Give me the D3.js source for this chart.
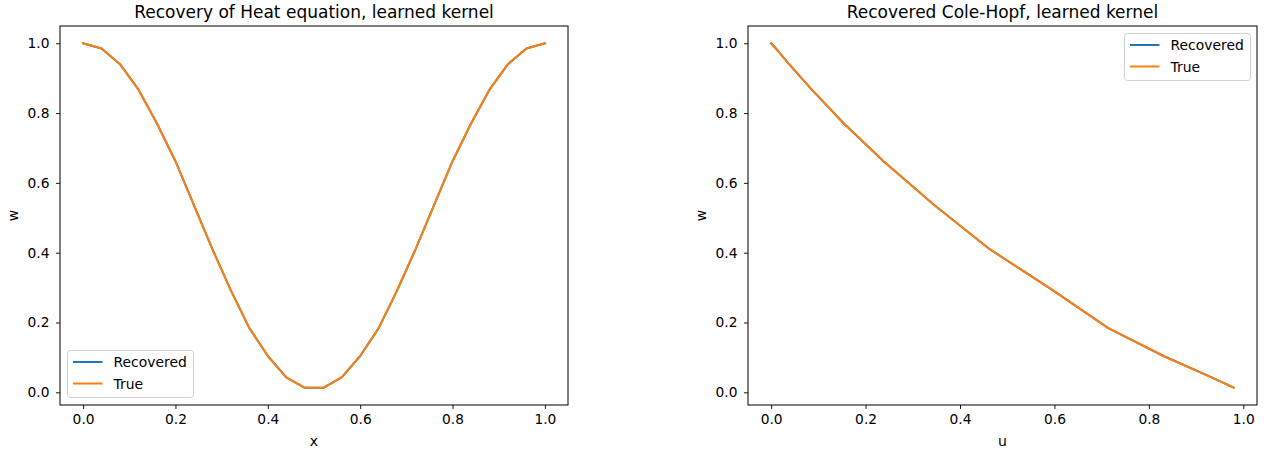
<!DOCTYPE html>
<html>
<head>
<meta charset="utf-8">
<script src="https://cdn.jsdelivr.net/npm/d3@7"></script>
<style>
  html, body { margin: 0; padding: 0; background: #fff; }
  svg text { font-family: "DejaVu Sans", sans-serif; fill: #000; }
</style>
</head>
<body>
<svg id="chart" width="1269" height="452"></svg>
<script>
// ---- data ----
const heatX = [0.0, 0.04, 0.08, 0.12, 0.16, 0.2, 0.24, 0.28, 0.32, 0.36, 0.4, 0.44, 0.48,
               0.52, 0.56, 0.6, 0.64, 0.68, 0.72, 0.76, 0.8, 0.84, 0.88, 0.92, 0.96, 1.0];
const heatTrue = [1.0, 0.985, 0.94, 0.867, 0.77, 0.662, 0.536, 0.41, 0.292, 0.184, 0.104, 0.043, 0.013,
                  0.013, 0.043, 0.104, 0.184, 0.292, 0.41, 0.536, 0.662, 0.77, 0.867, 0.94, 0.985, 1.0];
const heatRecovered = [1.0, 0.985, 0.94, 0.867, 0.77, 0.662, 0.536, 0.41, 0.292, 0.184, 0.104, 0.043, 0.013,
                       0.013, 0.043, 0.104, 0.184, 0.292, 0.41, 0.536, 0.662, 0.77, 0.867, 0.94, 0.985, 1.0];

const chU = [0.0, 0.01, 0.038, 0.086, 0.154, 0.238, 0.346, 0.463, 0.597, 0.714, 0.831, 0.933, 0.98];
const chTrue = [1.0, 0.985, 0.94, 0.867, 0.77, 0.662, 0.536, 0.41, 0.292, 0.184, 0.104, 0.043, 0.013];
const chRecovered = [1.0, 0.985, 0.94, 0.867, 0.77, 0.662, 0.536, 0.41, 0.292, 0.184, 0.104, 0.043, 0.013];

const xTicks = [0.0, 0.2, 0.4, 0.6, 0.8, 1.0];
const yTicks = [0.0, 0.2, 0.4, 0.6, 0.8, 1.0];
const seriesNames = ["Recovered", "True"];
const seriesColors = ["#1f77b4", "#ff7f0e"];

const svg = d3.select("#chart");

function panel(opts) {
  const { left, right, top, bottom, xs, series, title, xlabel, ylabel, legendPos } = opts;
  const allY = series.flat();
  const xMin = d3.min(xs), xMax = d3.max(xs);
  const yMin = d3.min(allY), yMax = d3.max(allY);
  const xr = xMax - xMin, yr = yMax - yMin;
  const x = d3.scaleLinear().domain([xMin - 0.05 * xr, xMax + 0.05 * xr]).range([left, right]);
  const y = d3.scaleLinear().domain([yMin - 0.05 * yr, yMax + 0.05 * yr]).range([bottom, top]);

  const g = svg.append("g");

  // axes
  const xa = g.append("g").attr("transform", `translate(0,${bottom})`)
    .call(d3.axisBottom(x).tickValues(xTicks).tickFormat(d3.format(".1f")).tickSize(4).tickPadding(5));
  const ya = g.append("g").attr("transform", `translate(${left},0)`)
    .call(d3.axisLeft(y).tickValues(yTicks).tickFormat(d3.format(".1f")).tickSize(4).tickPadding(6.5));
  [xa, ya].forEach(a => {
    a.select(".domain").remove();
    a.selectAll("text").style("font-size", "13.8px").style("font-family", "DejaVu Sans");
    a.selectAll("line").attr("stroke", "#000").attr("stroke-width", 0.9);
  });

  // lines
  const line = d3.line().x((d, i) => x(xs[i])).y(d => y(d));
  series.forEach((s, k) => {
    g.append("path").datum(s).attr("d", line)
      .attr("fill", "none").attr("stroke", seriesColors[k]).attr("stroke-width", 2)
      .attr("stroke-linejoin", "round").attr("stroke-linecap", "square");
  });

  // frame
  g.append("rect").attr("x", left).attr("y", top).attr("width", right - left).attr("height", bottom - top)
    .attr("fill", "none").attr("stroke", "#000").attr("stroke-width", 1);

  // title and labels
  g.append("text").attr("x", (left + right) / 2).attr("y", top - 8).attr("text-anchor", "middle")
    .style("font-size", "17px").text(title);
  g.append("text").attr("x", (left + right) / 2).attr("y", 446).attr("text-anchor", "middle")
    .style("font-size", "14px").text(xlabel);
  g.append("text").attr("transform", `translate(${left - 42},${(top + bottom) / 2}) rotate(-90)`)
    .attr("text-anchor", "middle").style("font-size", "14px").text(ylabel);

  // legend
  const lg = g.append("g").attr("transform", `translate(${legendPos[0]},${legendPos[1]})`);
  lg.append("rect").attr("x", 0).attr("y", 0).attr("width", 126).attr("height", 47).attr("rx", 3)
    .attr("fill", "#fff").attr("fill-opacity", 0.8).attr("stroke", "#d0d0d0").attr("stroke-width", 1);
  seriesNames.forEach((nm, k) => {
    const yy = 11.5 + k * 21.5;
    lg.append("line").attr("x1", 5.5).attr("x2", 35).attr("y1", yy).attr("y2", yy)
      .attr("stroke", seriesColors[k]).attr("stroke-width", 2);
    lg.append("text").attr("x", 46).attr("y", yy + 5).style("font-size", "13.9px").text(nm);
  });
}

panel({
  left: 60, right: 568, top: 26, bottom: 405,
  xs: heatX, series: [heatRecovered, heatTrue],
  title: "Recovery of Heat equation, learned kernel",
  xlabel: "x", ylabel: "w", legendPos: [67.5, 350.5]
});

panel({
  left: 748, right: 1257, top: 26, bottom: 405,
  xs: chU, series: [chRecovered, chTrue],
  title: "Recovered Cole-Hopf, learned kernel",
  xlabel: "u", ylabel: "w", legendPos: [1124.5, 33.5]
});
</script>
</body>
</html>
